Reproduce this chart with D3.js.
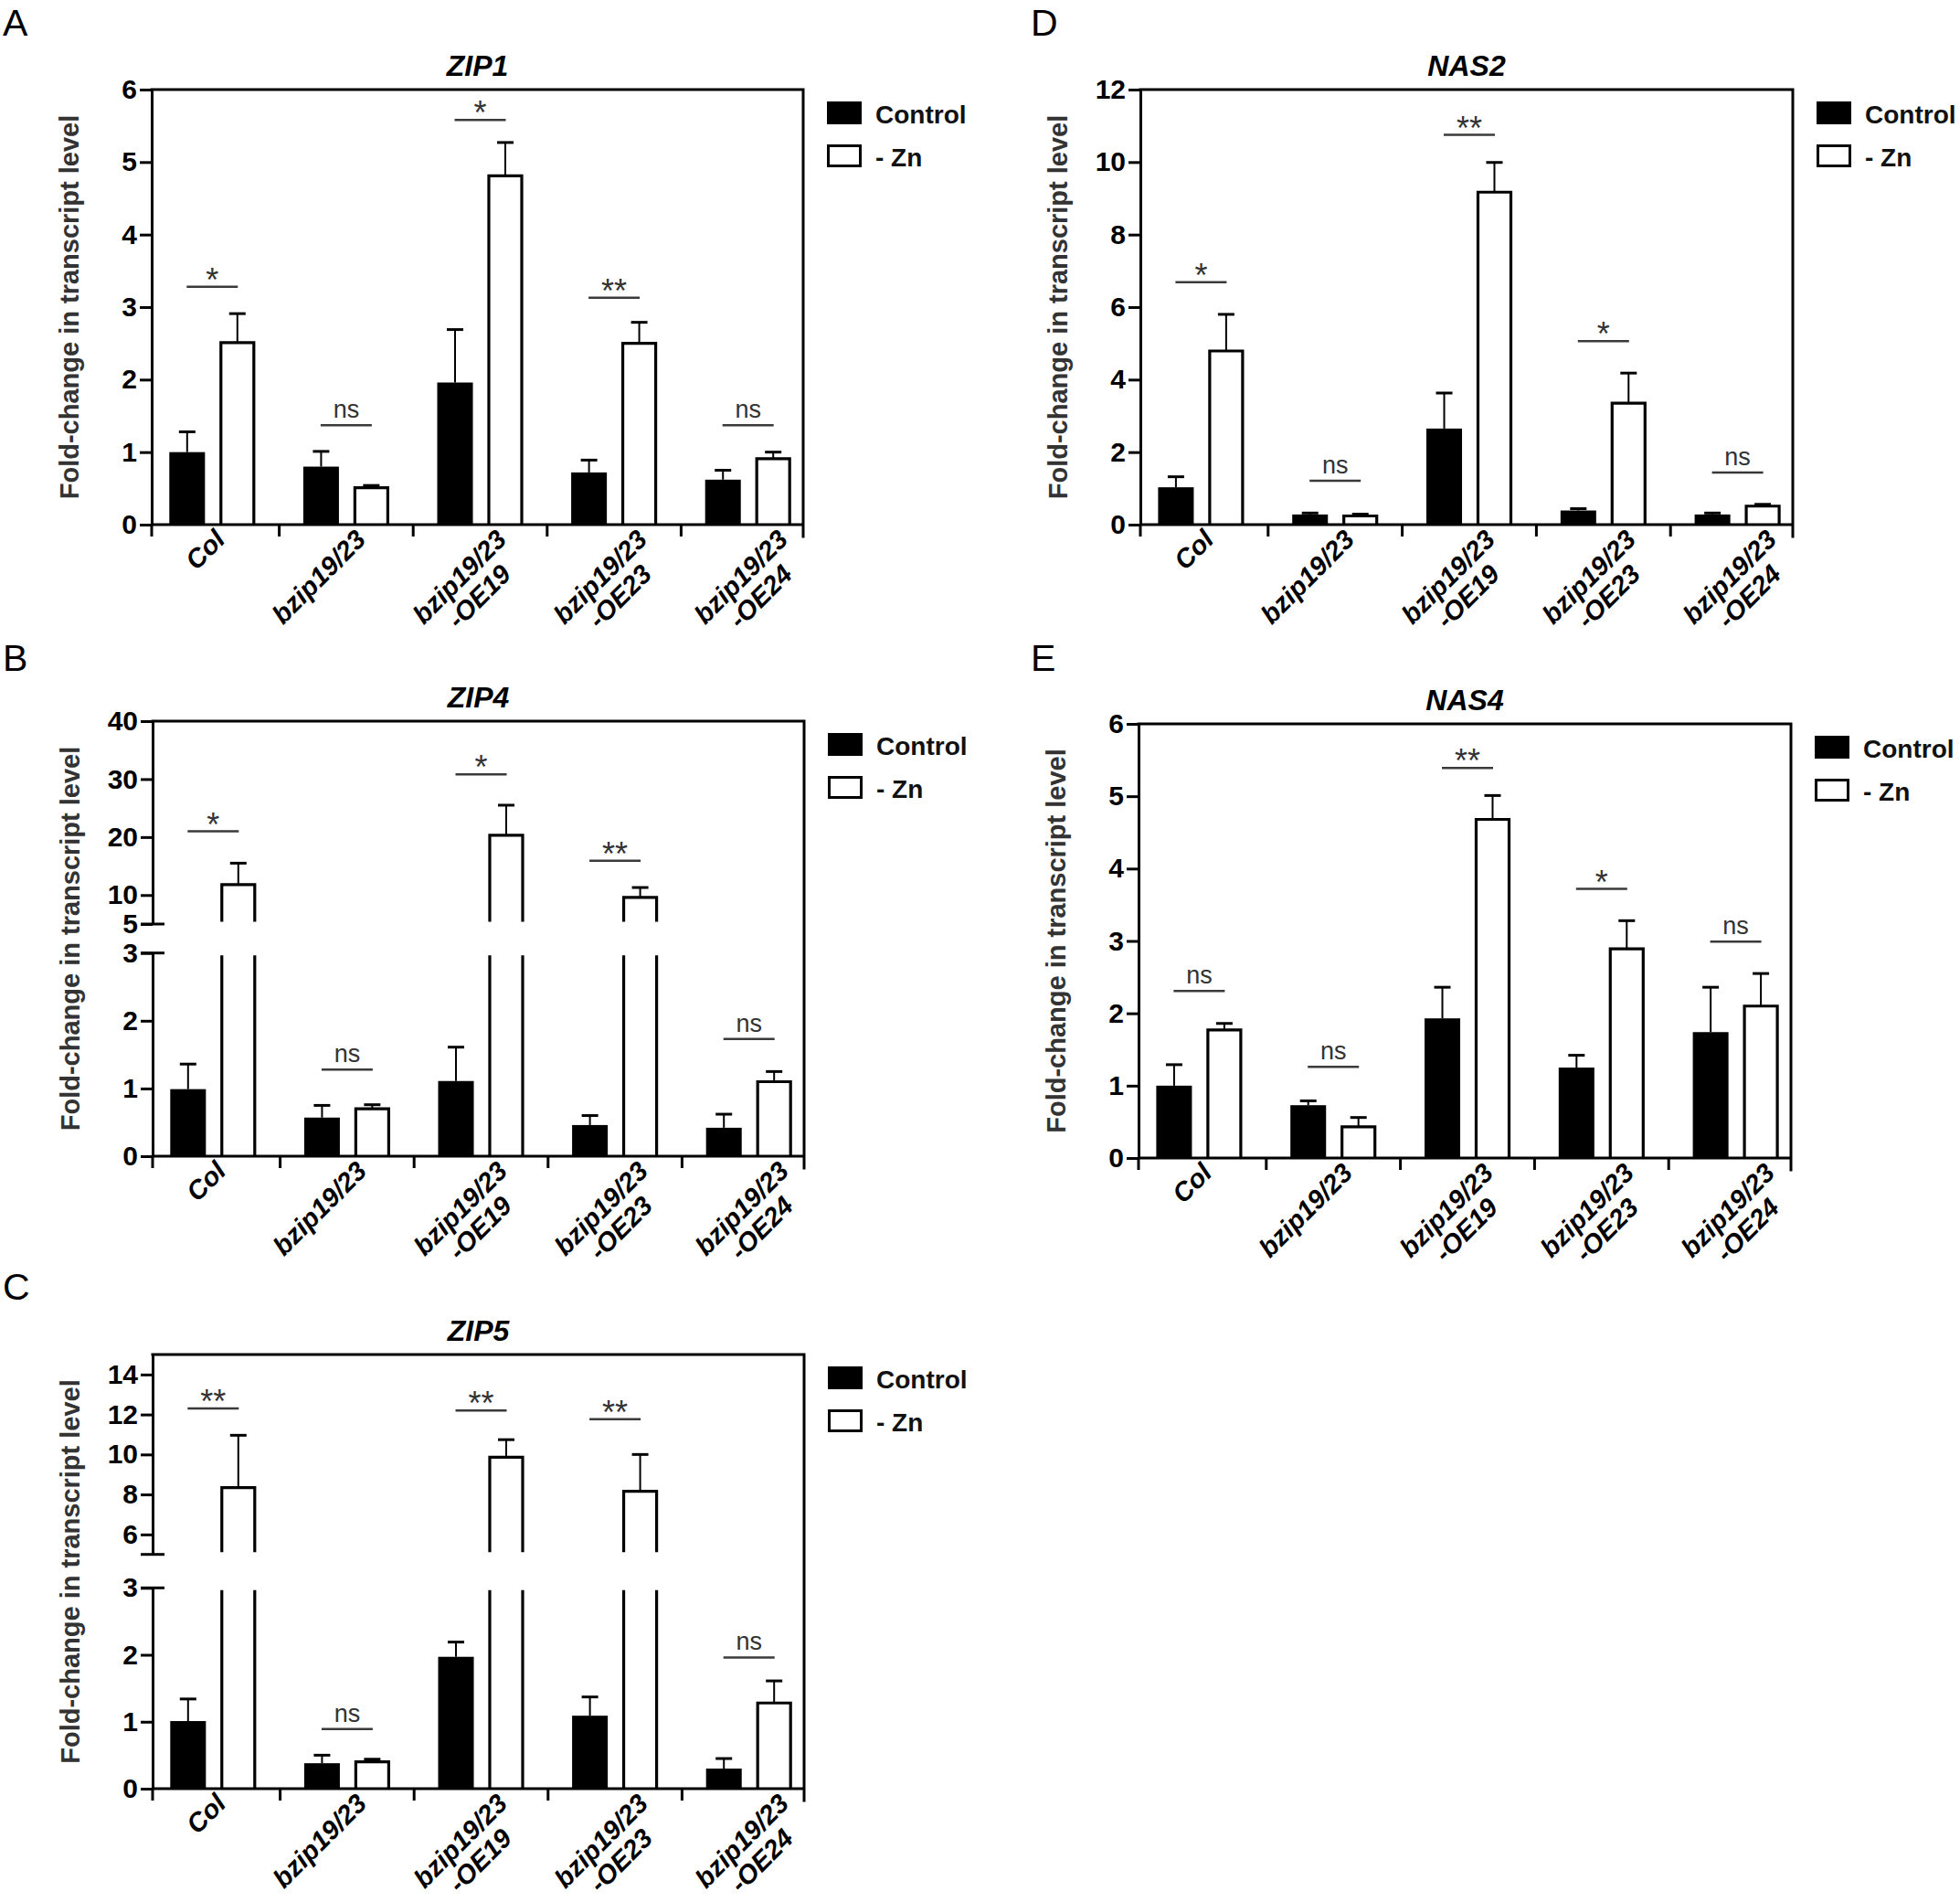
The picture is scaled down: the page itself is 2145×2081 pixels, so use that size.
<!DOCTYPE html>
<html>
<head>
<meta charset="utf-8">
<script src="https://cdnjs.cloudflare.com/ajax/libs/d3/7.8.5/d3.min.js"></script>
<style>
  body { margin: 0; background: #fff; }
  svg { display: block; font-family: "Liberation Sans", Arial, Helvetica, sans-serif; }
</style>
</head>
<body>
<svg id="fig" width="2145" height="2081"></svg>
<script>
// categories
var genotypes = ["Col", "bzip19/23", "bzip19/23-OE19", "bzip19/23-OE23", "bzip19/23-OE24"];
var conditions = ["Control", "- Zn"];

// A - ZIP1
var zip1Control    = [1.00, 0.80, 1.96, 0.72, 0.62];
var zip1ControlErr = [0.28, 0.21, 0.73, 0.17, 0.13];
var zip1Zn         = [2.51, 0.51, 4.81, 2.50, 0.91];
var zip1ZnErr      = [0.40, 0.03, 0.46, 0.29, 0.09];
var zip1Sig        = ["*", "ns", "*", "**", "ns"];
var zip1SigAt      = [3.28, 1.37, 5.58, 3.13, 1.37];
var zip1Ticks      = [0, 1, 2, 3, 4, 5, 6];

// B - ZIP4 (broken axis)
var zip4Control    = [0.99, 0.57, 1.11, 0.46, 0.42];
var zip4ControlErr = [0.37, 0.18, 0.50, 0.14, 0.20];
var zip4Zn         = [11.8, 0.70, 20.3, 9.6, 1.10];
var zip4ZnErr      = [3.7, 0.06, 5.2, 1.7, 0.15];
var zip4Sig        = ["*", "ns", "*", "**", "ns"];
var zip4SigAt      = [21.0, 1.28, 30.8, 15.9, 1.73];
var zip4LowTicks   = [0, 1, 2, 3];
var zip4HighTicks  = [5, 10, 20, 30, 40];

// C - ZIP5 (broken axis)
var zip5Control    = [1.01, 0.38, 1.97, 1.09, 0.30];
var zip5ControlErr = [0.33, 0.12, 0.22, 0.28, 0.15];
var zip5Zn         = [8.34, 0.40, 9.86, 8.16, 1.28];
var zip5ZnErr      = [2.62, 0.04, 0.88, 1.84, 0.33];
var zip5Sig        = ["**", "ns", "**", "**", "ns"];
var zip5SigAt      = [12.3, 0.89, 12.2, 11.76, 1.96];
var zip5LowTicks   = [0, 1, 2, 3];
var zip5HighTicks  = [6, 8, 10, 12, 14];

// D - NAS2
var nas2Control    = [1.03, 0.28, 2.65, 0.39, 0.28];
var nas2ControlErr = [0.29, 0.04, 0.98, 0.05, 0.04];
var nas2Zn         = [4.79, 0.24, 9.17, 3.35, 0.51];
var nas2ZnErr      = [1.01, 0.05, 0.82, 0.83, 0.05];
var nas2Sig        = ["*", "ns", "**", "*", "ns"];
var nas2SigAt      = [6.69, 1.21, 10.75, 5.06, 1.44];
var nas2Ticks      = [0, 2, 4, 6, 8, 10, 12];

// E - NAS4
var nas4Control    = [1.00, 0.73, 1.93, 1.25, 1.74];
var nas4ControlErr = [0.29, 0.06, 0.43, 0.17, 0.62];
var nas4Zn         = [1.77, 0.43, 4.68, 2.89, 2.10];
var nas4ZnErr      = [0.09, 0.13, 0.33, 0.39, 0.45];
var nas4Sig        = ["ns", "ns", "**", "*", "ns"];
var nas4SigAt      = [2.31, 1.26, 5.39, 3.72, 2.99];
var nas4Ticks      = [0, 1, 2, 3, 4, 5, 6];

// panel layout (pixel boxes of each plot area)
var panels = [
  {letter: "A", gene: "ZIP1", lx: 3, ly: 39, left: 166, right: 879, top: 98, bottom: 574,
   ctl: zip1Control, ctlErr: zip1ControlErr, zn: zip1Zn, znErr: zip1ZnErr, sig: zip1Sig, sigAt: zip1SigAt,
   lowDomain: [0, 6], lowTicks: zip1Ticks},
  {letter: "B", gene: "ZIP4", lx: 3, ly: 734, left: 167, right: 880, top: 789, bottom: 1265,
   ctl: zip4Control, ctlErr: zip4ControlErr, zn: zip4Zn, znErr: zip4ZnErr, sig: zip4Sig, sigAt: zip4SigAt,
   lowDomain: [0, 3], lowTicks: zip4LowTicks, lowTop: 1042.7,
   highDomain: [5, 40], highTicks: zip4HighTicks, highBottom: 1011},
  {letter: "C", gene: "ZIP5", lx: 3, ly: 1422, left: 167, right: 880, top: 1482, bottom: 1957,
   ctl: zip5Control, ctlErr: zip5ControlErr, zn: zip5Zn, znErr: zip5ZnErr, sig: zip5Sig, sigAt: zip5SigAt,
   lowDomain: [0, 3], lowTicks: zip5LowTicks, lowTop: 1737.3,
   highDomain: [5, 15], highTicks: zip5HighTicks, highBottom: 1700.7},
  {letter: "D", gene: "NAS2", lx: 1128, ly: 39, left: 1248, right: 1962, top: 98, bottom: 574,
   ctl: nas2Control, ctlErr: nas2ControlErr, zn: nas2Zn, znErr: nas2ZnErr, sig: nas2Sig, sigAt: nas2SigAt,
   lowDomain: [0, 12], lowTicks: nas2Ticks},
  {letter: "E", gene: "NAS4", lx: 1128, ly: 734, left: 1246, right: 1960, top: 792, bottom: 1267,
   ctl: nas4Control, ctlErr: nas4ControlErr, zn: nas4Zn, znErr: nas4ZnErr, sig: nas4Sig, sigAt: nas4SigAt,
   lowDomain: [0, 6], lowTicks: nas4Ticks}
];

var svg = d3.select("#fig");
svg.append("rect").attr("width", 2145).attr("height", 2081).attr("fill", "#fff");

var sub = d3.scaleBand().domain(conditions).range([-47, 47]).paddingInner(0.29);

panels.forEach(function(p) {
  var g = svg.append("g");
  var broken = !!p.highDomain;
  if (!broken) p.lowTop = p.top;

  var x = d3.scaleBand().domain(genotypes).range([p.left - 7, p.right + 13]);
  // label anchors sit on a slightly wider spacing than the bar groups
  var xLab = d3.scalePoint().domain(genotypes).range([p.left + 82, p.left + 82 + 4 * 154]);
  var yLow = d3.scaleLinear().domain(p.lowDomain).range([p.bottom, p.lowTop]);
  var yHigh = broken ? d3.scaleLinear().domain(p.highDomain).range([p.highBottom, p.top]) : null;
  var y = function(v) { return (!broken || v <= p.lowDomain[1]) ? yLow(v) : yHigh(v); };

  // bar pieces, split around the axis break
  function segments(v) {
    if (!broken || v <= p.lowDomain[1]) return [{y1: p.bottom, y2: y(v), closed: true}];
    return [{y1: p.bottom, y2: p.lowTop + 2.5, closed: false},
            {y1: p.highBottom - 2.5, y2: y(v), closed: true}];
  }

  var bw = sub.bandwidth();
  var bars = [];
  genotypes.forEach(function(gt, i) {
    var cx = x(gt) + x.bandwidth() / 2;
    bars.push({cond: conditions[0], x: cx + sub(conditions[0]), v: p.ctl[i], e: p.ctlErr[i]});
    bars.push({cond: conditions[1], x: cx + sub(conditions[1]), v: p.zn[i], e: p.znErr[i]});
  });

  // error bars (upper only)
  bars.forEach(function(b) {
    var mx = b.x + bw / 2;
    g.append("line").attr("x1", mx).attr("x2", mx).attr("y1", y(b.v)).attr("y2", y(b.v + b.e))
      .attr("stroke", "#000").attr("stroke-width", 2);
    g.append("line").attr("x1", mx - 9).attr("x2", mx + 9).attr("y1", y(b.v + b.e)).attr("y2", y(b.v + b.e))
      .attr("stroke", "#000").attr("stroke-width", 3);
  });

  // bars
  bars.forEach(function(b) {
    segments(b.v).forEach(function(s) {
      if (b.cond === conditions[0]) {
        g.append("rect").attr("x", b.x).attr("width", bw).attr("y", s.y2).attr("height", s.y1 - s.y2)
          .attr("fill", "#000");
      } else {
        var x1 = b.x + 1.5, x2 = b.x + bw - 1.5;
        g.append("rect").attr("x", x1).attr("width", x2 - x1).attr("y", s.y2).attr("height", s.y1 - s.y2)
          .attr("fill", "#fff");
        var d = s.closed
          ? "M" + x1 + "," + s.y1 + "V" + s.y2 + "H" + x2 + "V" + s.y1
          : "M" + x1 + "," + s.y1 + "V" + s.y2 + "M" + x2 + "," + s.y1 + "V" + s.y2;
        g.append("path").attr("d", d).attr("fill", "none").attr("stroke", "#000").attr("stroke-width", 3.2);
      }
    });
  });

  // left axis (one or two segments)
  function styleAxis(ax) {
    ax.select(".domain").attr("stroke-width", 3);
    ax.selectAll(".tick line").attr("stroke-width", 3);
    ax.selectAll(".tick text").attr("font-size", 30).attr("font-weight", "bold")
      .attr("font-family", "'Liberation Sans', Arial, sans-serif").attr("fill", "#000");
  }
  var axLow = g.append("g").attr("transform", "translate(" + p.left + ",0)")
    .call(d3.axisLeft(yLow).tickValues(p.lowTicks).tickFormat(d3.format("d"))
      .tickSize(13).tickSizeOuter(0).tickPadding(3));
  styleAxis(axLow);
  if (broken) {
    var axHigh = g.append("g").attr("transform", "translate(" + p.left + ",0)")
      .call(d3.axisLeft(yHigh).tickValues(p.highTicks).tickFormat(d3.format("d"))
        .tickSize(13).tickSizeOuter(0).tickPadding(3));
    styleAxis(axHigh);
    [p.lowTop, p.highBottom].forEach(function(yy) {
      g.append("line").attr("x1", p.left - 13).attr("x2", p.left + 13).attr("y1", yy).attr("y2", yy)
        .attr("stroke", "#000").attr("stroke-width", 3);
    });
  }

  // frame: top and right border, bottom axis with group ticks
  g.append("path")
    .attr("d", "M" + p.left + "," + p.top + "H" + p.right + "V" + (p.bottom + 13))
    .attr("fill", "none").attr("stroke", "#000").attr("stroke-width", 3).attr("stroke-linecap", "square");
  g.append("line").attr("x1", p.left).attr("x2", p.right).attr("y1", p.bottom).attr("y2", p.bottom)
    .attr("stroke", "#000").attr("stroke-width", 3);
  var xt = [p.left].concat(genotypes.slice(1).map(function(d) { return x(d); }));
  g.selectAll(".xtick").data(xt).join("line").attr("class", "xtick")
    .attr("x1", function(d) { return d; }).attr("x2", function(d) { return d; })
    .attr("y1", p.bottom).attr("y2", p.bottom + 13)
    .attr("stroke", "#000").attr("stroke-width", 3);

  // rotated genotype labels
  g.selectAll(".xlab").data(genotypes).join("text").attr("class", "xlab")
    .attr("transform", function(d) {
      return "translate(" + xLab(d) + "," + (p.bottom + 18) + ") rotate(-45)";
    })
    .attr("text-anchor", "end").attr("font-size", 29).attr("font-weight", "bold").attr("font-style", "italic")
    .each(function(d) {
      var t = d3.select(this), lines = d.split(/(?=-OE)/);
      var first = t.append("tspan").attr("x", 0).attr("y", 0).text(lines[0]);
      if (lines.length > 1) {
        var second = t.append("tspan").attr("x", 0).attr("dy", "1.05em").text(lines[1]);
        var shift = (first.node().getComputedTextLength() - second.node().getComputedTextLength()) / 2;
        second.attr("x", -shift);
      }
    });

  // significance marks
  genotypes.forEach(function(gt, i) {
    var cx = x(gt) + x.bandwidth() / 2, yy = y(p.sigAt[i]);
    var star = p.sig[i].indexOf("*") >= 0;
    g.append("line").attr("x1", cx - 28).attr("x2", cx + 28).attr("y1", yy).attr("y2", yy)
      .attr("stroke", "#3a3a3a").attr("stroke-width", 2.5);
    g.append("text").attr("x", cx).attr("y", star ? yy + 5 : yy - 8)
      .attr("text-anchor", "middle").attr("font-size", star ? 36 : 27).attr("fill", "#333").text(p.sig[i]);
  });

  // titles and labels
  g.append("text").attr("x", (p.left + p.right) / 2).attr("y", p.top - 15)
    .attr("text-anchor", "middle").attr("font-size", 32).attr("font-weight", "bold").attr("font-style", "italic")
    .text(p.gene);
  g.append("text")
    .attr("transform", "translate(" + (p.left - 80) + "," + ((p.top + p.bottom) / 2) + ") rotate(-90)")
    .attr("text-anchor", "middle").attr("font-size", 29).attr("font-weight", "bold").attr("fill", "#333")
    .text("Fold-change in transcript level");
  g.append("text").attr("x", p.lx).attr("y", p.ly).attr("font-size", 41).text(p.letter);

  // legend
  conditions.forEach(function(c, j) {
    var ly = p.top + 13 + j * 47;
    g.append("rect").attr("x", p.right + 27.5).attr("y", ly + 1.5).attr("width", 35).attr("height", 22)
      .attr("fill", j === 0 ? "#000" : "#fff").attr("stroke", "#000").attr("stroke-width", 3);
    g.append("text").attr("x", p.right + 79).attr("y", ly + 24)
      .attr("font-size", 28).attr("font-weight", "bold").attr("fill", "#111").text(c);
  });
});
</script>
</body>
</html>
